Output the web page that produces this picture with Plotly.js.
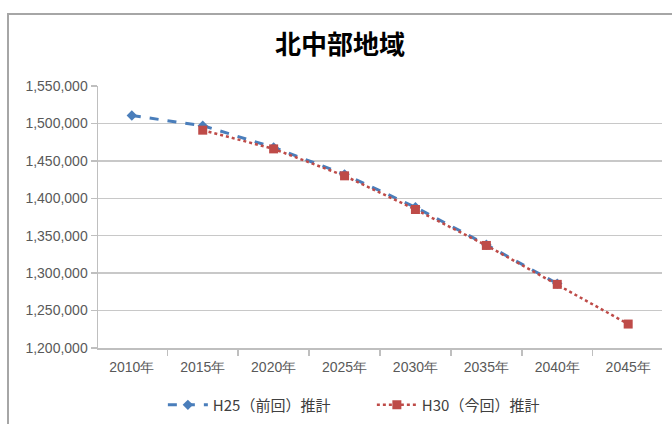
<!DOCTYPE html>
<html>
<head>
<meta charset="utf-8">
<script src="https://cdn.plot.ly/plotly-3.0.1.min.js"></script>
<style>
html,body{margin:0;padding:0;background:#fff;}
#wrap{position:relative;width:672px;height:424px;overflow:hidden;}
#chart{width:672px;height:424px;}
#frame{position:absolute;left:7px;top:13px;width:700px;height:440px;border-left:2px solid #a6a6a6;border-top:2px solid #a6a6a6;pointer-events:none;}
</style>
</head>
<body>
<div id="wrap"><div id="chart"></div><div id="frame"></div></div>
<script>
const years = ["2010年","2015年","2020年","2025年","2030年","2035年","2040年","2045年"];
const h25Name = "H25（前回）推計";
const h30Name = "H30（今回）推計";
const h25 = [1510500, 1497000, 1468000, 1432000, 1388000, 1338000, 1286000, null];
const h30 = [null, 1491000, 1466000, 1430000, 1385000, 1337000, 1285000, 1232000];
const yTicks = [1200000, 1250000, 1300000, 1350000, 1400000, 1450000, 1500000, 1550000];
const titleText = "北中部地域";

const tickFont = {family: "Liberation Sans, Arial, sans-serif", size: 14, color: "#595959"};

const traces = [
  {
    x: years, y: h25, name: h25Name, type: "scatter", mode: "lines+markers",
    line: {color: "#4a7ebb", width: 3, dash: "dash"},
    marker: {symbol: "diamond", size: 8, color: "#4a7ebb"},
    connectgaps: false
  },
  {
    x: years, y: h30, name: h30Name, type: "scatter", mode: "lines+markers",
    line: {color: "#be4b48", width: 2.5, dash: "dot"},
    marker: {symbol: "square", size: 9, color: "#be4b48"},
    connectgaps: false
  }
];

const layout = {
  width: 672, height: 424,
  margin: {l: 98, r: 10, t: 86, b: 76, autoexpand: false},
  paper_bgcolor: "#ffffff", plot_bgcolor: "#ffffff",
  title: {
    text: "<b>" + titleText + "</b>",
    font: {family: "Noto Sans CJK JP, sans-serif", size: 26, color: "#000000"},
    x: 0.506, xref: "container", xanchor: "center",
    y: 0.894, yref: "container", yanchor: "middle"
  },
  xaxis: {
    type: "category",
    tickfont: tickFont,
    showline: true, linecolor: "#bfbfbf", linewidth: 1.5,
    ticks: "outside", tickson: "boundaries", ticklen: 6, tickcolor: "#bfbfbf", tickwidth: 1.5,
    showgrid: false, zeroline: false,
    ticklabelstandoff: 6
  },
  yaxis: {
    range: [1200000, 1550000],
    tickvals: yTicks,
    tickformat: ",d",
    tickfont: tickFont,
    showline: true, linecolor: "#bfbfbf", linewidth: 1.5,
    ticks: "outside", ticklen: 6, tickcolor: "#bfbfbf", tickwidth: 1.5,
    showgrid: true, gridcolor: "#c8c8c8", gridwidth: 1.5,
    zeroline: false
  },
  showlegend: true,
  legend: {
    orientation: "h",
    x: 0.115, xanchor: "left", xref: "paper",
    y: -0.218, yanchor: "middle", yref: "paper",
    font: {family: "Noto Sans CJK JP, sans-serif", size: 15, color: "#404040"},
    itemwidth: 40,
    entrywidth: 154,
    traceorder: "normal"
  }
};

Plotly.newPlot("chart", traces, layout, {displayModeBar: false, staticPlot: true});
</script>
</body>
</html>
